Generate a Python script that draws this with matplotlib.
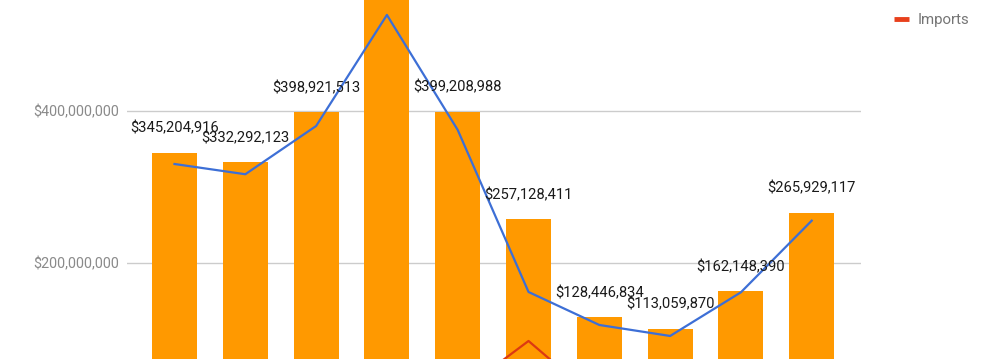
import matplotlib
matplotlib.use("Agg")
import matplotlib.pyplot as plt
from matplotlib.lines import Line2D
from matplotlib.ticker import FuncFormatter

# ---- data ----
categories = list(range(10))
bar_values = [345204916, 332292123, 398921513, 585000000, 399208988,
              257128411, 128446834, 113059870, 162148390, 265929117]
bar_labels = ["$345,204,916", "$332,292,123", "$398,921,513", "", "$399,208,988",
              "$257,128,411", "$128,446,834", "$113,059,870", "$162,148,390", "$265,929,117"]
blue_values = [330.1e6, 316.6e6, 380.2e6, 526.6e6, 375.0e6,
               161.4e6, 117.9e6, 103.4e6, 161.0e6, 255.4e6]
imports_values = [20e6, 18e6, 22e6, 25e6, 27e6, 96.8e6, 17e6, 15e6, 18e6, 20e6]
yticks = [200e6, 400e6]

ORANGE = "#ff9900"
BLUE = "#3d6fd6"
RED = "#dc3912"
GRID = "#cccccc"
TICKGREY = "#8a8a8a"

plt.rcParams['font.family'] = ['Roboto', 'DejaVu Sans']

fig = plt.figure(figsize=(10, 3.59), dpi=100)
ax = fig.add_axes([0.127, 0.0, 0.734, 1.0])

ax.bar(categories, bar_values, width=0.636, color=ORANGE, zorder=2)
ax.plot(categories, blue_values, color=BLUE, lw=1.6, zorder=3)
ax.plot(categories, imports_values, color=RED, lw=1.6, zorder=3)

for x, v, lab in zip(categories, bar_values, bar_labels):
    if lab:
        ax.annotate(lab, (x, v), xytext=(0, 24), textcoords='offset pixels',
                    ha='center', va='center', fontsize=10.6, color='#1a1a1a', zorder=4)

ax.set_yticks(yticks)
ax.set_xticks([])
ax.set_xlim(-0.671, 9.696)
ax.set_ylim(73.04e6, 546.3e6)
ax.yaxis.set_major_formatter(FuncFormatter(lambda v, p: "${:,.0f}".format(v)))
ax.tick_params(axis='y', length=0, pad=6, labelsize=10.4, labelcolor=TICKGREY)
ax.grid(axis='y', color=GRID, lw=1, zorder=0)
ax.set_axisbelow(True)
for s in ax.spines.values():
    s.set_visible(False)

handle = Line2D([], [], color="#e8401c", lw=3.5, solid_capstyle='butt')
fig.legend([handle], ["Imports"], loc='center left', bbox_to_anchor=(0.894, 1 - 20 / 359),
           frameon=False, borderpad=0, borderaxespad=0, handlelength=1.0,
           handletextpad=0.6, fontsize=10.8, labelcolor='#757575')

fig.savefig("out.png", dpi=100)
